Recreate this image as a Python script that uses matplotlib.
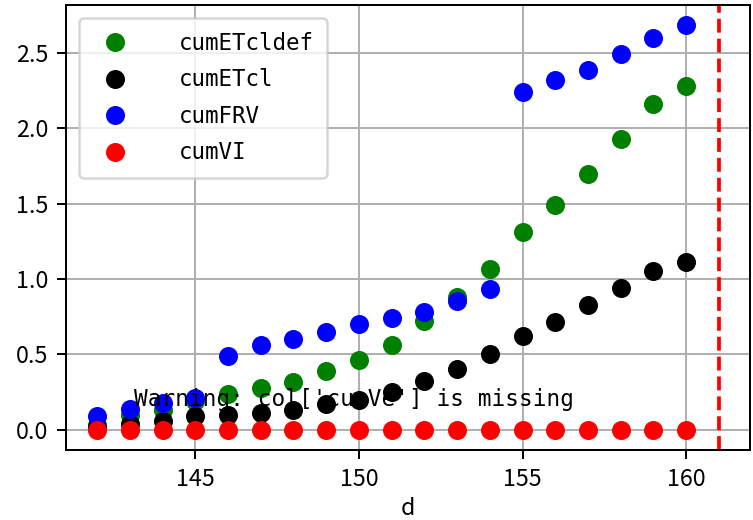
import numpy as np
import matplotlib
matplotlib.use('Agg')
import matplotlib.pyplot as plt

# days and cumulative series
d = [142, 143, 144, 145, 146, 147, 148, 149, 150, 151,
     152, 153, 154, 155, 156, 157, 158, 159, 160]
cumETcldef = [0.03, 0.10, 0.13, 0.19, 0.24, 0.28, 0.32, 0.39, 0.46, 0.56,
              0.72, 0.88, 1.07, 1.31, 1.49, 1.70, 1.93, 2.16, 2.28]
cumETcl = [0.02, 0.04, 0.055, 0.09, 0.095, 0.11, 0.13, 0.17, 0.20, 0.25,
           0.325, 0.405, 0.505, 0.625, 0.715, 0.825, 0.94, 1.055, 1.115]
cumFRV = [0.09, 0.14, 0.18, 0.21, 0.49, 0.56, 0.60, 0.65, 0.70, 0.74,
          0.785, 0.855, 0.935, 2.245, 2.32, 2.39, 2.495, 2.60, 2.685]
cumVI = [0.0, 0.0, 0.0, 0.0, 0.0, 0.0, 0.0, 0.0, 0.0, 0.0,
         0.0, 0.0, 0.0, 0.0, 0.0, 0.0, 0.0, 0.0, 0.0]
today = 161
warning = "Warning: col['cumVe'] is missing"

plt.rcParams['font.family'] = ['Noto Sans CJK SC', 'DejaVu Sans']
plt.rcParams['font.size'] = 9.3

dpi = 180
fig = plt.figure(figsize=(753 / dpi, 520 / dpi), dpi=dpi)
ax = fig.add_axes([0.0876, 0.1346, 0.9084, 0.8558])

ms = 6.6
ax.plot(d, cumETcldef, 'o', color='green', ms=ms, label='cumETcldef')
ax.plot(d, cumETcl, 'o', color='black', ms=ms, label='cumETcl')
ax.plot(d, cumFRV, 'o', color='blue', ms=ms, label='cumFRV')
ax.plot(d, cumVI, 'o', color='red', ms=ms, label='cumVI')

ax.axvline(today, color='red', linestyle='--', lw=1.5)

mono = ['DejaVu Sans Mono']
ax.text(0.1, 0.1, warning, transform=ax.transAxes, family=mono, fontsize=9.1)

ax.grid(True)
ax.set_xlabel('d', labelpad=2.5)
ax.set_xticks([145, 150, 155, 160])
ax.set_yticks([0.0, 0.5, 1.0, 1.5, 2.0, 2.5])
ax.set_yticklabels(['0.0', '0.5', '1.0', '1.5', '2.0', '2.5'])

ax.legend(loc='upper left', prop={'family': mono, 'size': 9},
          borderpad=0.6, labelspacing=0.6, handletextpad=1.8,
          borderaxespad=0.6)

fig.savefig('out.png', dpi=dpi)
